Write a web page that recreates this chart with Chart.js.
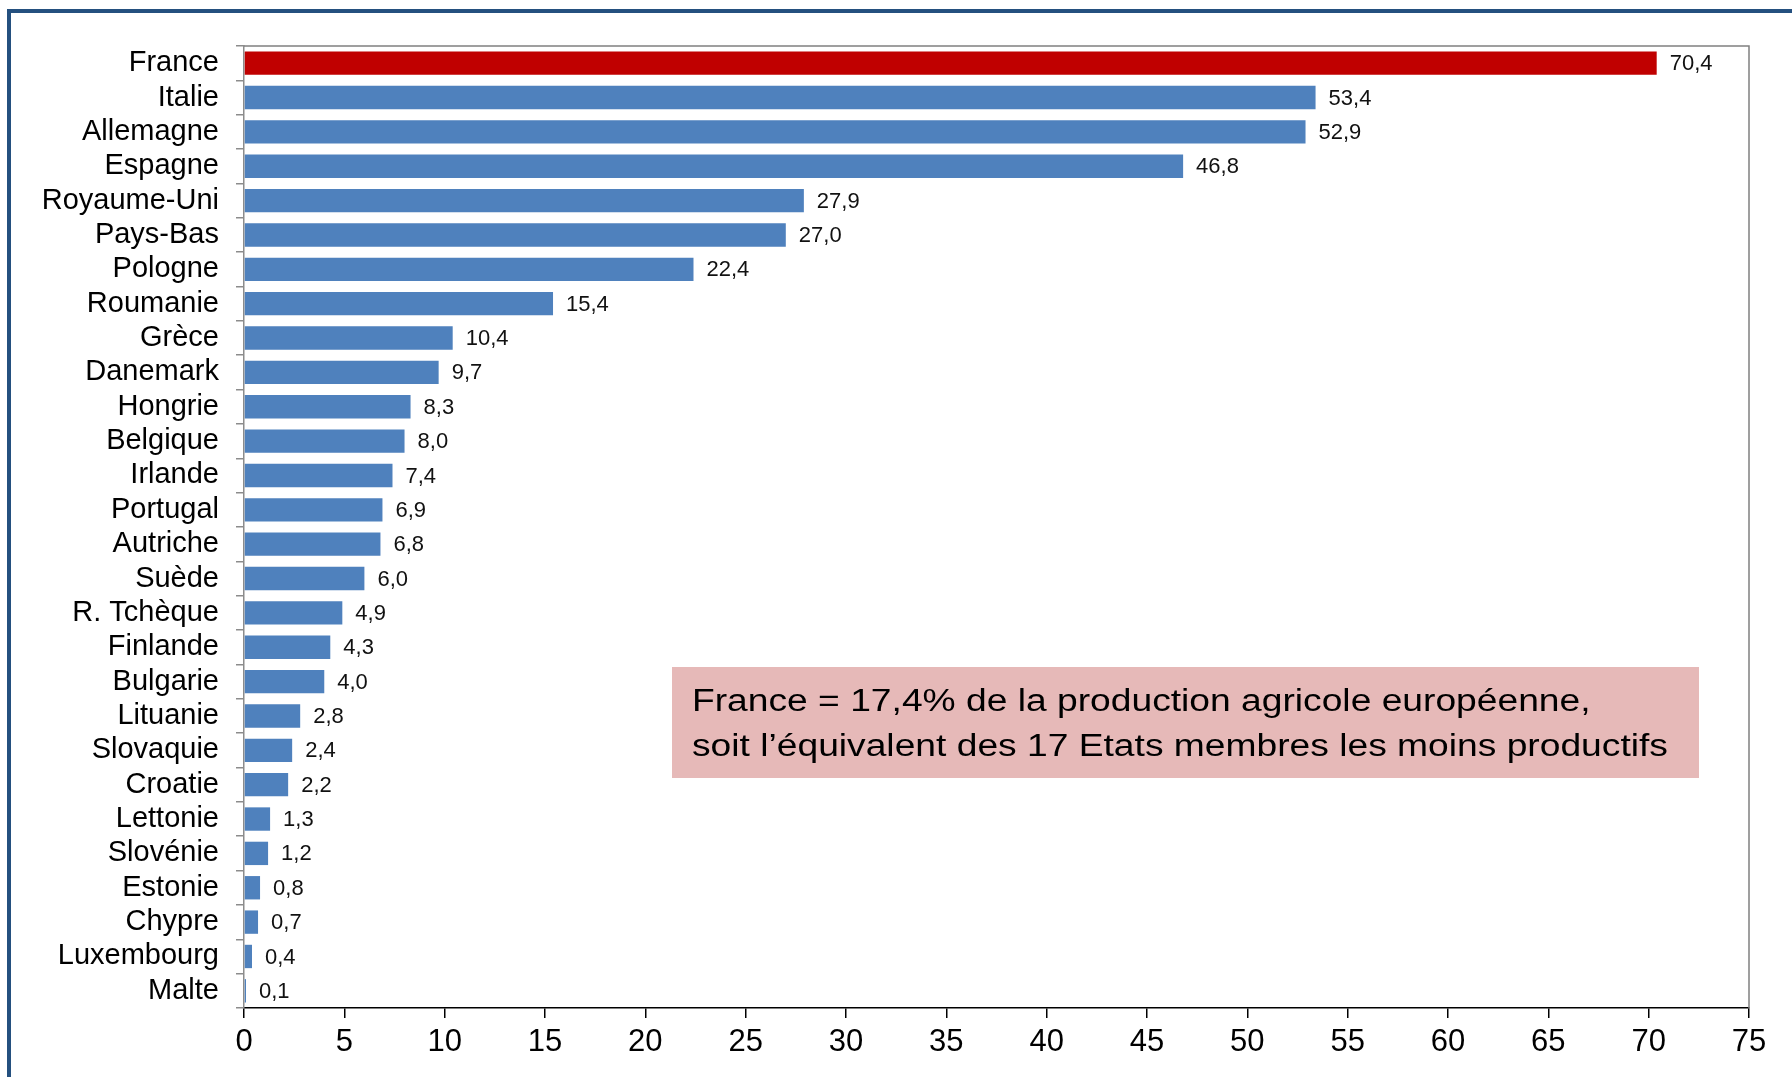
<!DOCTYPE html>
<html lang="fr">
<head>
<meta charset="utf-8">
<title>Production agricole européenne</title>
<script src="https://cdn.jsdelivr.net/npm/chart.js@4.4.1/dist/chart.umd.min.js"></script>
<style>
    html, body { margin: 0; padding: 0; background: #fff; overflow: hidden; }
    body { width: 1792px; height: 1077px; position: relative; font-family: "Liberation Sans", Arial, sans-serif; }
    #frame {
        position: absolute; left: 7px; top: 9px; width: 2000px; height: 2000px;
        border-left: 4px solid #24507f; border-top: 4px solid #24507f;
    }
    #wrap { position: absolute; left: 0; top: 0; width: 1792px; height: 1077px; }
    #note {
        position: absolute; left: 672px; top: 667px; width: 1027px; height: 111px;
        background: #e6b9b8; box-sizing: border-box; padding: 11px 0 0 20px;
        font-size: 31px; line-height: 45px; color: #000;
    }
    #note span { display: block; white-space: nowrap; transform: scaleX(1.2); transform-origin: left center; }
</style>
</head>
<body>
<div id="frame"></div>
<div id="wrap"><canvas id="chart" width="1792" height="1077"></canvas></div>
<div id="note"><span>France = 17,4% de la production agricole européenne,</span><span>soit l’équivalent des 17 Etats membres les moins productifs</span></div>
<script>
// Données (milliards d'euros)
const pays = ['France', 'Italie', 'Allemagne', 'Espagne', 'Royaume-Uni', 'Pays-Bas', 'Pologne',
    'Roumanie', 'Grèce', 'Danemark', 'Hongrie', 'Belgique', 'Irlande', 'Portugal', 'Autriche',
    'Suède', 'R. Tchèque', 'Finlande', 'Bulgarie', 'Lituanie', 'Slovaquie', 'Croatie',
    'Lettonie', 'Slovénie', 'Estonie', 'Chypre', 'Luxembourg', 'Malte'];
const production = [70.4, 53.4, 52.9, 46.8, 27.9, 27.0, 22.4, 15.4, 10.4, 9.7, 8.3, 8.0, 7.4,
    6.9, 6.8, 6.0, 4.9, 4.3, 4.0, 2.8, 2.4, 2.2, 1.3, 1.2, 0.8, 0.7, 0.4, 0.1];
const xTicks = [0, 5, 10, 15, 20, 25, 30, 35, 40, 45, 50, 55, 60, 65, 70, 75];

const couleurs = pays.map(p => p === 'France' ? '#c00000' : '#4f81bd');

// Étiquettes de valeur à droite des barres
const valueLabels = {
    id: 'valueLabels',
    afterDatasetsDraw(chart) {
        const ctx = chart.ctx;
        const meta = chart.getDatasetMeta(0);
        ctx.save();
        ctx.font = '22px "Liberation Sans", Arial, sans-serif';
        ctx.fillStyle = '#111';
        ctx.textAlign = 'left';
        ctx.textBaseline = 'middle';
        meta.data.forEach((bar, i) => {
            const txt = production[i].toFixed(1).replace('.', ',');
            ctx.fillText(txt, bar.x + 13, bar.y + 1);
        });
        ctx.restore();
    }
};

// Bordure haute et droite de la zone de tracé
const plotBorder = {
    id: 'plotBorder',
    afterDraw(chart) {
        const a = chart.chartArea;
        const ctx = chart.ctx;
        ctx.save();
        ctx.strokeStyle = '#808080';
        ctx.lineWidth = 1.5;
        ctx.beginPath();
        ctx.moveTo(a.left, a.top);
        ctx.lineTo(a.right, a.top);
        ctx.lineTo(a.right, a.bottom);
        ctx.stroke();
        ctx.restore();
    }
};

new Chart(document.getElementById('chart'), {
    type: 'bar',
    data: {
        labels: pays,
        datasets: [{
            data: production,
            backgroundColor: couleurs,
            borderWidth: 0,
            barPercentage: 0.68,
            categoryPercentage: 1
        }]
    },
    options: {
        indexAxis: 'y',
        responsive: false,
        animation: false,
        layout: { padding: { left: 0, top: 46, right: 43, bottom: 0 } },
        plugins: {
            legend: { display: false },
            tooltip: { enabled: false }
        },
        scales: {
            x: {
                min: 0,
                max: 75,
                afterBuildTicks(scale) { scale.ticks = xTicks.map(v => ({ value: v })); },
                afterFit(scale) { scale.height = 69; },
                grid: { drawOnChartArea: false, drawTicks: true, tickLength: 10, color: '#000', lineWidth: 1.5 },
                border: { color: '#000', width: 1.5 },
                ticks: {
                    padding: 6,
                    color: '#000',
                    font: { family: '"Liberation Sans", Arial, sans-serif', size: 31 }
                }
            },
            y: {
                afterFit(scale) { scale.width = 244; },
                grid: { offset: true, drawOnChartArea: false, drawTicks: true, tickLength: 8, color: '#8c8c8c', lineWidth: 1.5 },
                border: { color: '#8c8c8c', width: 1.5 },
                ticks: {
                    padding: 17,
                    color: '#000',
                    autoSkip: false,
                    font: { family: '"Liberation Sans", Arial, sans-serif', size: 29 }
                }
            }
        }
    },
    plugins: [valueLabels, plotBorder]
});
</script>
</body>
</html>
